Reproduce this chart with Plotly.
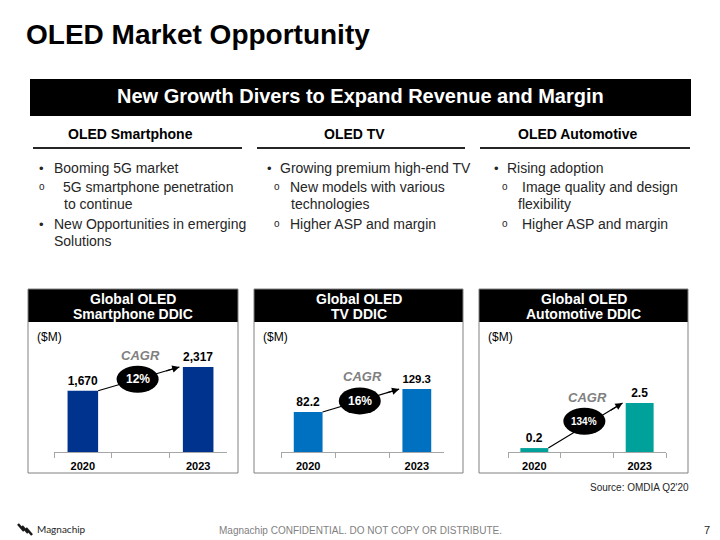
import plotly.graph_objects as go

W, H = 720, 540
OFF = 8  # page body margin of the html page
FONT = "Liberation Sans, Arial, sans-serif"


def X(px):
    return (px - OFF) / W


def Y(py):
    return 1 - (py - OFF) / H


# ---------------- data ----------------
title = "OLED Market Opportunity"
banner = "New Growth Divers to Expand Revenue and Margin"
segments = ["OLED Smartphone", "OLED TV", "OLED Automotive"]
panel_line1 = ["Global OLED", "Global OLED", "Global OLED"]
panel_line2 = ["Smartphone DDIC", "TV DDIC", "Automotive DDIC"]
years = ["2020", "2023"]
smartphone_ddic = [1670, 2317]
tv_ddic = [82.2, 129.3]
automotive_ddic = [0.2, 2.5]
cagr_labels = ["12%", "16%", "134%"]
unit_label = "($M)"
source_note = "Source: OMDIA Q2'20"
footer_note = "Magnachip CONFIDENTIAL. DO NOT COPY OR DISTRIBUTE."
page_number = "7"
company = "Magnachip"

bullets_smartphone = [("•", ["Booming 5G market"]),
                      ("o", ["5G smartphone penetration", "to continue"]),
                      ("•", ["New Opportunities in emerging", "Solutions"])]
bullets_tv = [("•", ["Growing premium high-end TV"]),
              ("o", ["New models with various", "technologies"]),
              ("o", ["Higher ASP and margin"])]
bullets_auto = [("•", ["Rising adoption"]),
                ("o", ["Image quality and design", "flexibility"]),
                ("o", ["Higher ASP and margin"])]

# ---------------- styling / layout ----------------
bar_colors = ["#00338D", "#0070C0", "#00A19A"]
series = [smartphone_ddic, tv_ddic, automotive_ddic]
text_templates = ["<b>%{y:,}</b>", "<b>%{y:.1f}</b>", "<b>%{y:.1f}</b>"]
range_factor = [1.435, 1.94, 2.49]
badge_lift = [0, 0, 5]  # px the CAGR badge sits above the arrow
panel_x = [(28, 238), (254, 463), (479, 688)]
axis_x = [(54, 227), (281, 444), (508, 666)]
plot_top, plot_bottom = 330, 452
panel_top, panel_head, panel_bottom = 289, 322, 473
GAP = " "
BARGAP = 0.47

fig = go.Figure()
shapes = []
annotations = []


def note(text, x, y, size, color="#000000", xanchor="center", **kw):
    font = dict(family=kw.pop("family", FONT), size=size, color=color)
    for k in ("weight", "style"):
        if k in kw:
            font[k] = kw.pop(k)
    d = dict(text=text, x=X(x), y=Y(y), xref="paper", yref="paper", xanchor=xanchor,
             yanchor="middle", showarrow=False, font=font)
    d.update(kw)
    annotations.append(d)


for i, vals in enumerate(series):
    xa = "x" if i == 0 else f"x{i+1}"
    ya = "y" if i == 0 else f"y{i+1}"
    fig.add_trace(go.Bar(
        x=[years[0], GAP, years[1]], y=[vals[0], None, vals[1]],
        xaxis=xa, yaxis=ya, marker=dict(color=bar_colors[i], line=dict(width=0)),
        texttemplate=text_templates[i], textposition="outside", cliponaxis=False,
        textfont=dict(family=FONT, size=12, color="#000000"),
        hoverinfo="skip", showlegend=False))

    axis_key = "xaxis" if i == 0 else f"xaxis{i+1}"
    yaxis_key = "yaxis" if i == 0 else f"yaxis{i+1}"
    fig.update_layout(**{
        axis_key: dict(domain=[X(axis_x[i][0]), X(axis_x[i][1])], anchor=ya,
                       type="category", categoryorder="array",
                       categoryarray=[years[0], GAP, years[1]],
                       range=[-0.5, 2.5], showline=True, linecolor="#A6A6A6", linewidth=1,
                       ticks="outside", tickson="boundaries", ticklen=5, tickcolor="#A6A6A6",
                       ticklabelstandoff=4,
                       showgrid=False, zeroline=False, fixedrange=True,
                       tickfont=dict(family=FONT, size=11, color="#000000", weight="bold")),
        yaxis_key: dict(domain=[Y(plot_bottom), Y(plot_top)], anchor=xa,
                        range=[0, max(vals) * range_factor[i]], visible=False,
                        showgrid=False, zeroline=False, fixedrange=True),
    })

    # panel frame with black header
    x0, x1 = panel_x[i]
    shapes.append(dict(type="rect", xref="paper", yref="paper",
                       x0=X(x0), x1=X(x1), y0=Y(panel_head), y1=Y(panel_top),
                       fillcolor="#000000", line=dict(width=0), layer="above"))
    shapes.append(dict(type="rect", xref="paper", yref="paper",
                       x0=X(x0), x1=X(x1), y0=Y(panel_bottom), y1=Y(panel_top),
                       fillcolor="rgba(0,0,0,0)", line=dict(color="#808080", width=1), layer="above"))
    cx = (x0 + x1) / 2
    note(f"<b>{panel_line1[i]}</b>", cx, 298.5, 14, "#FFFFFF")
    note(f"<b>{panel_line2[i]}</b>", cx, 313.5, 14, "#FFFFFF")
    note(unit_label, x0 + 7, 337, 12, xanchor="left")

    # CAGR arrow (data coordinates, categories 0 and 2)
    hw = (1 - BARGAP) / 2
    sx, sy = hw, vals[0]
    ex, ey = 2 - hw - 0.06, vals[1]
    shapes.append(dict(type="line", xref=xa, yref=ya, x0=sx, y0=sy, x1=ex, y1=ey,
                       line=dict(color="#000000", width=1.2), layer="above"))
    mx = 0.95
    my = sy + (ey - sy) * (mx - sx) / (ex - sx)
    lift = badge_lift[i]
    shapes.append(dict(type="circle", xref=xa, yref=ya, xsizemode="pixel", ysizemode="pixel",
                       xanchor=mx, yanchor=my, x0=-21, x1=21, y0=-13.5 + lift, y1=13.5 + lift,
                       fillcolor="#000000", line=dict(width=0), layer="above"))
    annotations.append(dict(x=ex, y=ey, xref=xa, yref=ya, axref=xa, ayref=ya,
                            ax=ex - 0.18 * (ex - sx), ay=ey - 0.18 * (ey - sy), text="",
                            showarrow=True, arrowhead=2, arrowsize=1.2, arrowwidth=1.2,
                            arrowcolor="#000000"))
    annotations.append(dict(x=mx, y=my, yshift=lift, xref=xa, yref=ya, text=f"<b>{cagr_labels[i]}</b>",
                            showarrow=False, xanchor="center", yanchor="middle",
                            font=dict(family=FONT, size=12 if len(cagr_labels[i]) < 4 else 10,
                                      color="#FFFFFF")))
    annotations.append(dict(x=mx + 0.05, y=my, yshift=24 + lift, xref=xa, yref=ya, text="CAGR",
                            showarrow=False, xanchor="center", yanchor="middle",
                            font=dict(family=FONT, size=13, color="#808080", weight="bold",
                                      style="italic")))

# ---------------- slide texts ----------------
note(f"<b>{title}</b>", 24, 34, 28, xanchor="left")
shapes.append(dict(type="rect", xref="paper", yref="paper", x0=X(30), x1=X(691), y0=Y(116), y1=Y(79),
                   fillcolor="#000000", line=dict(width=0)))
note(f"<b>{banner}</b>", 360.5, 96, 20, "#FFFFFF")

seg_centers = [130, 354, 577]
underlines = [(33, 242), (257, 465), (480, 690)]
for i, s in enumerate(segments):
    note(f"<b>{s}</b>", seg_centers[i], 134, 14)
    shapes.append(dict(type="line", xref="paper", yref="paper", x0=X(underlines[i][0]), x1=X(underlines[i][1]),
                       y0=Y(148), y1=Y(148), line=dict(color="#262626", width=2)))

# bullet columns: (items, dot x, text x, sub-dot x, sub-text x, continuation x for sub)
bullet_cols = [
    (bullets_smartphone, 37, 52, 37, 61, 62),
    (bullets_tv, 265, 278, 272, 288, 289),
    (bullets_auto, 492, 505, 500, 520, 516),
]
for items, bx, tx, sbx, stx, scx in bullet_cols:
    y = 168
    for mark, lines in items:
        sub = mark == "o"
        note(mark, sbx if sub else bx, y - (1 if sub else 0), 10 if sub else 13, "#262626", xanchor="left")
        for j, line in enumerate(lines):
            lx = (stx if j == 0 else scx) if sub else tx
            note(line, lx, y + 17 * j, 14, "#262626", xanchor="left")
        y += (17 * (len(lines) - 1) + 20) if len(lines) > 1 else 19

note(source_note, 691, 487, 10, "#262626", xanchor="right")
note(footer_note, 360, 530, 10, "#7F7F7F")
note(page_number, 707, 530, 11, "#262626")
note(company, 35, 529, 10, "#262626", xanchor="left", family="Lato, " + FONT)
# logo mark: three slanted strokes
for k in range(3):
    shapes.append(dict(type="line", xref="paper", yref="paper",
                       x0=X(18 + 4 * k), y0=Y(524 + 2 * k), x1=X(24 + 4 * k), y1=Y(531 + 2 * k),
                       line=dict(color="#1a1a1a", width=2.5)))

fig.update_layout(width=W, height=H, margin=dict(l=0, r=0, t=0, b=0),
                  paper_bgcolor="#FFFFFF", plot_bgcolor="#FFFFFF", bargap=BARGAP,
                  showlegend=False, shapes=shapes, annotations=annotations,
                  font=dict(family=FONT))

fig.write_html("out.html")
